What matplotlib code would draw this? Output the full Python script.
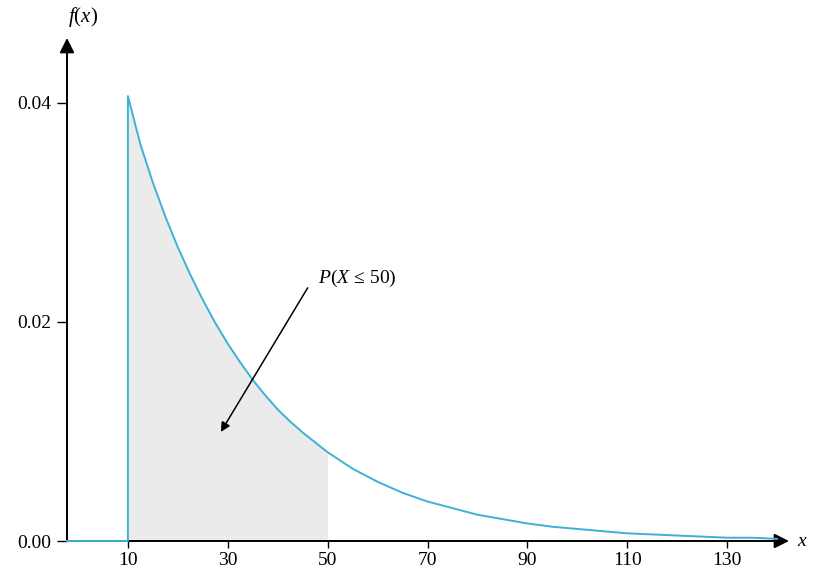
import matplotlib
matplotlib.use("Agg")
import matplotlib.pyplot as plt

plt.rcParams["font.family"] = ["Liberation Serif", "DejaVu Serif"]
plt.rcParams["mathtext.fontset"] = "custom"
plt.rcParams["mathtext.rm"] = "Liberation Serif"
plt.rcParams["mathtext.it"] = "Liberation Serif:italic"

# density
x_vals = [10, 12.5, 15, 17.5, 20, 22.5, 25, 27.5, 30, 32.5, 35, 37.5, 40,
          42.5, 45, 47.5, 50, 55, 60, 65, 70, 75, 80, 85, 90, 95, 100,
          105, 110, 115, 120, 125, 130, 135, 140]
f_vals = [0.0406, 0.0362, 0.0327, 0.0296, 0.0268, 0.0243, 0.0220, 0.0199,
          0.0180, 0.0163, 0.0147, 0.0133, 0.0120, 0.0109, 0.0099, 0.0090,
          0.0081, 0.0066, 0.0054, 0.0044, 0.0036, 0.0030, 0.0024, 0.0020,
          0.0016, 0.0013, 0.0011, 0.0009, 0.0007, 0.0006, 0.0005, 0.0004,
          0.0003, 0.0003, 0.0002]
x_ticks = [10, 30, 50, 70, 90, 110, 130]
y_ticks = [0.00, 0.02, 0.04]
y_ticklabels = ["0.00", "0.02", "0.04"]
shade_upper = 50
annot_label = r"$P(X\,\leq\,50)$"

CURVE = "#3fb0d6"
SHADE = "#ebebeb"
XMIN, XMAX = -2.2, 142.4
YMAX = 0.0459

fig = plt.figure(figsize=(8.16, 5.73), dpi=100)
ax = fig.add_axes([67 / 816, 32 / 573, (789 - 67) / 816, 503 / 573])
ax.set_xlim(XMIN, XMAX)
ax.set_ylim(0, YMAX)

# shaded area up to x = 50
sx = [x for x in x_vals if x <= shade_upper]
sy = f_vals[:len(sx)]
ax.fill_between(sx, 0, sy, color=SHADE, lw=0, zorder=1)

# density: zero left of 10, jump, then decay
ax.plot([XMIN, x_vals[0], x_vals[0]] + x_vals[1:],
        [0, 0, f_vals[0]] + f_vals[1:],
        color=CURVE, lw=1.4, zorder=3, clip_on=False)

for s in ax.spines.values():
    s.set_visible(False)

# axes with arrowheads
arrow_kw = dict(arrowstyle="-|>", color="black", lw=1.4,
                mutation_scale=22, shrinkA=0, shrinkB=0)
ax.annotate("", xy=(1, 0), xytext=(0, 0), xycoords="axes fraction",
            arrowprops=arrow_kw, zorder=2)
ax.annotate("", xy=(0, 1), xytext=(0, 0), xycoords="axes fraction",
            arrowprops=arrow_kw, zorder=2)

ax.set_xticks(x_ticks)
ax.set_xticklabels([str(t) for t in x_ticks])
ax.set_yticks(y_ticks)
ax.set_yticklabels(y_ticklabels)
ax.tick_params(axis="x", direction="out", length=5, width=1, pad=3, labelsize=14)
ax.tick_params(axis="y", direction="out", length=7, width=1, pad=4, labelsize=14)

ax.text(1.0, 0.0478, r"$f(x)$", fontsize=15, ha="center", va="center", clip_on=False)
ax.text(145, 0, r"$x$", fontsize=14, ha="center", va="center", clip_on=False)

ax.annotate("", xy=(28.6, 0.00995), xytext=(46, 0.0231),
            arrowprops=dict(arrowstyle="-|>", color="black", lw=1.1,
                            mutation_scale=14, shrinkA=0, shrinkB=0))
ax.text(48, 0.0240, annot_label, fontsize=14, ha="left", va="center")

fig.savefig("out.png", dpi=100)
